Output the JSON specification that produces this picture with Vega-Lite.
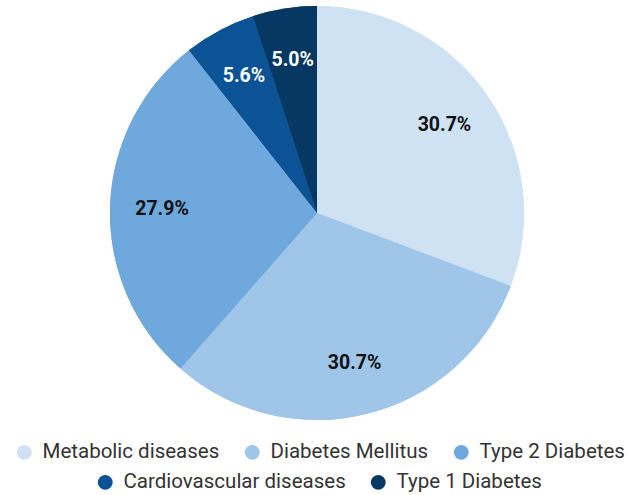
{
  "$schema": "https://vega.github.io/schema/vega-lite/v6.json",
  "width": 634,
  "height": 426,
  "padding": {"left": 0, "top": 0, "right": 0, "bottom": 69},
  "autosize": {"type": "none"},
  "background": "white",
  "data": {
    "values": [
      {"category": "Metabolic diseases", "share": 0.307, "rank": 1},
      {"category": "Diabetes Mellitus", "share": 0.307, "rank": 2},
      {"category": "Type 2 Diabetes", "share": 0.279, "rank": 3},
      {"category": "Cardiovascular diseases", "share": 0.056, "rank": 4},
      {"category": "Type 1 Diabetes", "share": 0.05, "rank": 5}
    ]
  },
  "encoding": {
    "theta": {"field": "share", "type": "quantitative", "stack": true},
    "order": {"field": "rank", "type": "quantitative"}
  },
  "layer": [
    {
      "mark": {"type": "arc", "outerRadius": 207},
      "encoding": {
        "color": {
          "field": "category",
          "type": "nominal",
          "scale": {
            "domain": ["Metabolic diseases", "Diabetes Mellitus", "Type 2 Diabetes", "Cardiovascular diseases", "Type 1 Diabetes"],
            "range": ["#cfe2f3", "#9fc5e8", "#6fa8dc", "#0b5394", "#073763"]
          },
          "legend": {
            "orient": "none",
            "direction": "horizontal",
            "legendX": 14,
            "legendY": 442,
            "title": null,
            "values": ["Metabolic diseases", "Diabetes Mellitus", "Type 2 Diabetes"]
          }
        }
      }
    },
    {
      "mark": {"type": "arc", "outerRadius": 207},
      "encoding": {
        "fill": {
          "field": "category",
          "type": "nominal",
          "scale": {
            "domain": ["Type 1 Diabetes", "Cardiovascular diseases", "Type 2 Diabetes", "Diabetes Mellitus", "Metabolic diseases"],
            "range": ["#073763", "#0b5394", "#6fa8dc", "#9fc5e8", "#cfe2f3"]
          },
          "legend": {
            "orient": "none",
            "direction": "horizontal",
            "legendX": 95,
            "legendY": 472,
            "title": null,
            "values": ["Cardiovascular diseases", "Type 1 Diabetes"]
          }
        }
      }
    },
    {
      "mark": {"type": "text", "radius": 155, "font": "Roboto", "fontSize": 19.5, "fontWeight": "bold"},
      "encoding": {
        "text": {"field": "share", "type": "quantitative", "format": ".1%"},
        "color": {
          "condition": {"test": "datum.share < 0.1", "value": "white"},
          "value": "#111111"
        }
      }
    }
  ],
  "config": {
    "view": {"stroke": null},
    "legend": {
      "labelFont": "Roboto",
      "labelFontSize": 20.5,
      "labelColor": "#333333",
      "symbolType": "circle",
      "symbolSize": 220,
      "symbolStrokeWidth": 0,
      "labelOffset": 8,
      "columnPadding": 22,
      "padding": 0,
      "labelLimit": 400
    }
  }
}
